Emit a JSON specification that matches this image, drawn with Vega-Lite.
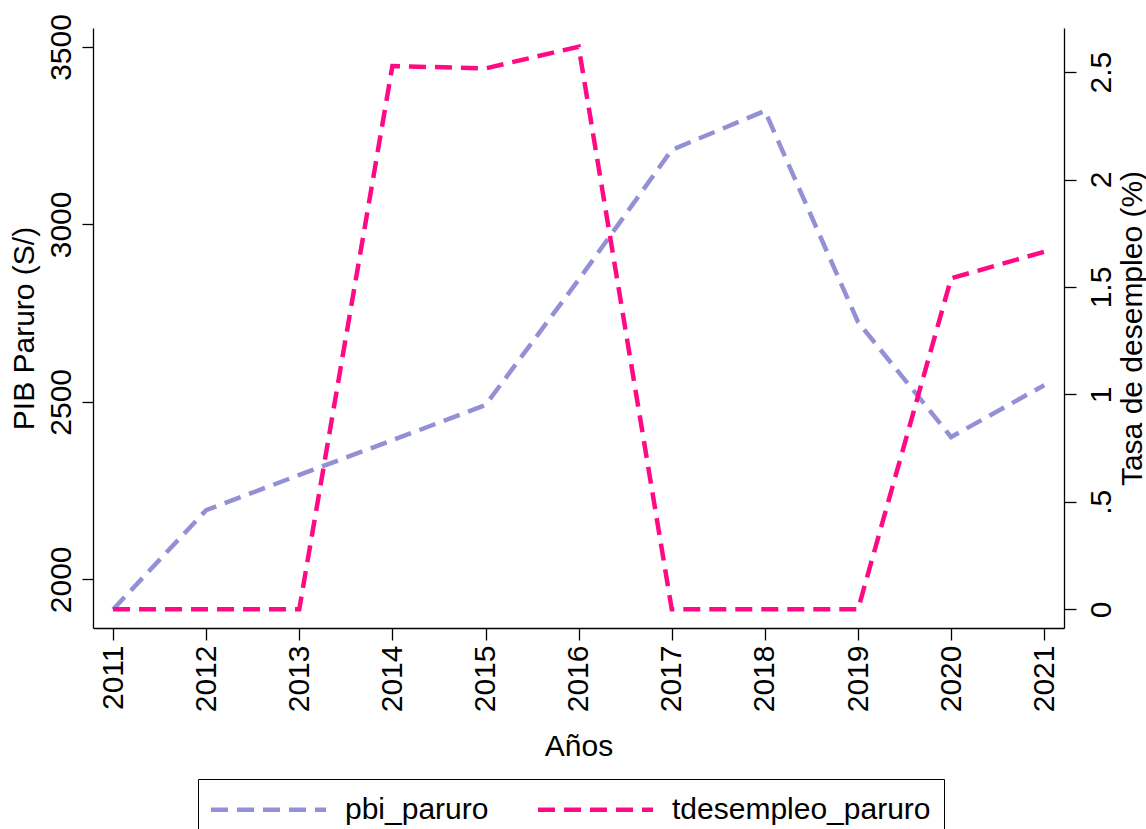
{
  "$schema": "https://vega.github.io/schema/vega-lite/v6.json",
  "width": 971,
  "height": 600,
  "autosize": {"type": "none"},
  "padding": {"left": 93, "top": 28, "right": 82, "bottom": 201},
  "background": "white",
  "data": {
    "values": [
      {"year": 2011, "pbi": 1915, "tdes": 0},
      {"year": 2012, "pbi": 2195, "tdes": 0},
      {"year": 2013, "pbi": 2294, "tdes": 0},
      {"year": 2014, "pbi": 2392, "tdes": 2.528},
      {"year": 2015, "pbi": 2491, "tdes": 2.517},
      {"year": 2016, "pbi": 2844, "tdes": 2.618},
      {"year": 2017, "pbi": 3210, "tdes": 0},
      {"year": 2018, "pbi": 3320, "tdes": 0},
      {"year": 2019, "pbi": 2725, "tdes": 0},
      {"year": 2020, "pbi": 2401, "tdes": 1.54},
      {"year": 2021, "pbi": 2547, "tdes": 1.664}
    ]
  },
  "encoding": {
    "x": {
      "field": "year",
      "type": "quantitative",
      "scale": {"domain": [2010.785, 2021.212], "nice": false, "zero": false},
      "axis": {
        "title": "Años",
        "values": [2011, 2012, 2013, 2014, 2015, 2016, 2017, 2018, 2019, 2020, 2021],
        "format": "d",
        "labelAngle": 270,
        "labelAlign": "right",
        "labelBaseline": "middle",
        "tickSize": 12,
        "labelPadding": 5,
        "titlePadding": 20,
        "labelFlush": false,
        "labelOverlap": false
      }
    }
  },
  "layer": [
    {
      "mark": {"type": "line", "strokeWidth": 4.5, "strokeDash": [17, 9], "strokeCap": "butt"},
      "encoding": {
        "y": {
          "field": "pbi",
          "type": "quantitative",
          "scale": {"domain": [1862.8, 3553.5], "nice": false, "zero": false},
          "axis": {
            "orient": "left",
            "title": "PIB Paruro (S/)",
            "values": [2000, 2500, 3000, 3500],
            "format": "d",
            "labelAngle": 270,
            "labelAlign": "center",
            "labelBaseline": "alphabetic",
            "tickSize": 11,
            "labelPadding": 12,
            "titleAngle": 270,
            "titleBaseline": "alphabetic",
            "titlePadding": 13,
            "labelFlush": false,
            "labelOverlap": false
          }
        },
        "color": {
          "datum": "pbi_paruro",
          "type": "nominal",
          "scale": {"domain": ["pbi_paruro", "tdesempleo_paruro"], "range": ["#9490d6", "#ff0a84"]},
          "legend": {
            "title": null,
            "orient": "none",
            "direction": "horizontal",
            "legendX": 105,
            "legendY": 751,
            "padding": 13,
            "strokeColor": "black",
            "symbolType": "M-1.167,0H6.5",
            "symbolSize": 900,
            "symbolStrokeWidth": 4.5,
            "symbolDash": [17, 9],
            "symbolFillColor": "transparent",
            "labelFont": "Liberation Sans",
            "labelFontSize": 30,
            "labelColor": "black",
            "labelLimit": 500,
            "labelOffset": 99,
            "columnPadding": 39
          }
        }
      }
    },
    {
      "mark": {"type": "line", "strokeWidth": 4.5, "strokeDash": [17, 9], "strokeCap": "butt"},
      "encoding": {
        "y": {
          "field": "tdes",
          "type": "quantitative",
          "scale": {"domain": [-0.087, 2.705], "nice": false, "zero": false},
          "axis": {
            "orient": "right",
            "title": "Tasa de desempleo (%)",
            "values": [0, 0.5, 1, 1.5, 2, 2.5],
            "format": ".1~f",
            "labelExpr": "datum.value == 0.5 ? '.5' : datum.label",
            "labelAngle": 270,
            "labelAlign": "center",
            "labelBaseline": "top",
            "tickSize": 12,
            "labelPadding": 10,
            "titleAngle": 270,
            "titleBaseline": "top",
            "titlePadding": 1,
            "labelFlush": false,
            "labelOverlap": false
          }
        },
        "color": {"datum": "tdesempleo_paruro", "type": "nominal"}
      }
    }
  ],
  "resolve": {"scale": {"y": "independent"}},
  "config": {
    "view": {"stroke": null},
    "font": "Liberation Sans",
    "axis": {
      "grid": false,
      "domainColor": "black",
      "domainWidth": 1.3,
      "tickColor": "black",
      "tickWidth": 1.3,
      "labelFont": "Liberation Sans",
      "labelFontSize": 30,
      "labelColor": "black",
      "titleFont": "Liberation Sans",
      "titleFontSize": 30,
      "titleFontWeight": "normal",
      "titleColor": "black"
    }
  }
}
